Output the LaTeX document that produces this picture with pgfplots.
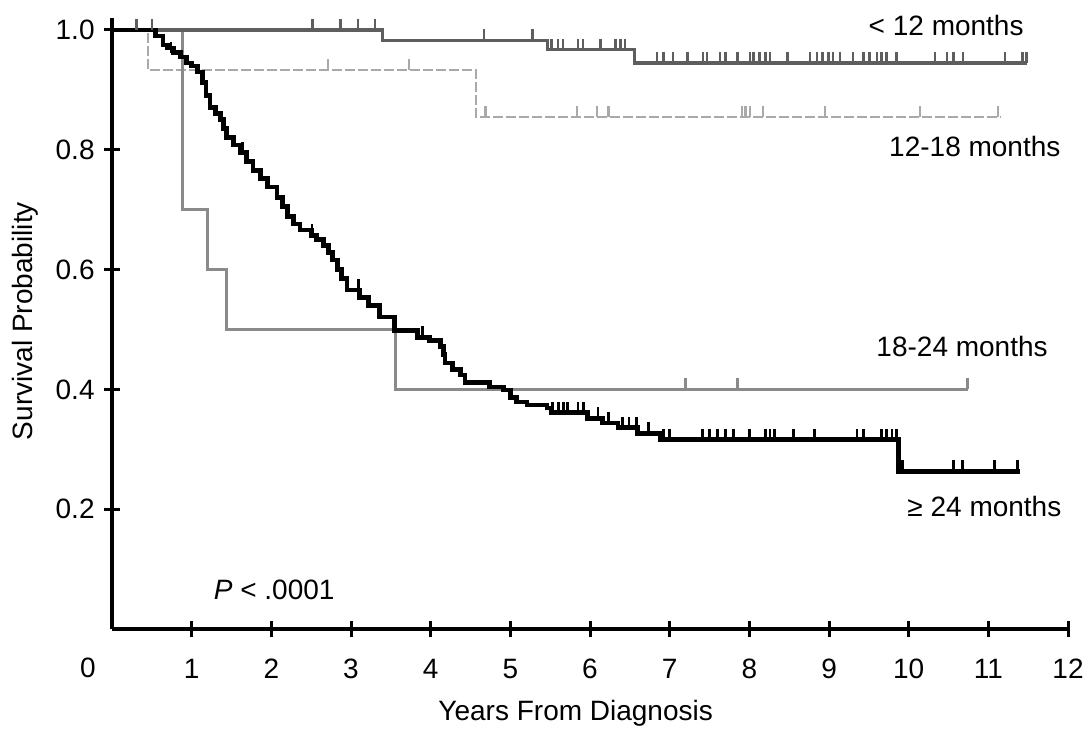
\documentclass[border=0pt]{standalone}
\usepackage{fontspec}
\setmainfont{Liberation Sans}
\usepackage{pgfplots}
\pgfplotsset{compat=1.18}
\usetikzlibrary{calc}
\pgfdeclareplotmark{cens}{\pgfpathmoveto{\pgfpointorigin}\pgfpathlineto{\pgfqpoint{0pt}{\pgfplotmarksize}}\pgfusepathqstroke}
\definecolor{cA}{HTML}{5E5E5E}
\definecolor{cB}{HTML}{A9A9A9}
\definecolor{cC}{HTML}{8A8A8A}
\newcommand{\lbl}{\fontsize{14}{16}\selectfont}
\begin{document}
\begin{tikzpicture}
\path[use as bounding box] (-56pt,-50pt) rectangle (489pt,314.5pt);
\begin{axis}[
  x=39.835pt, y=299.5pt,
  xmin=0, xmax=12, ymin=0, ymax=1.02,
  axis lines=left,
  axis line style={-, line width=2pt, black},
  x axis line style={-}, y axis line style={-},
  clip=false,
  xtick={1,2,3,4,5,6,7,8,9,10,11,12},
  xticklabels={1,2,3,4,5,6,7,8,9,10,11,12},
  ytick={0.2,0.4,0.6,0.8,1.0},
  yticklabels={0.2,0.4,0.6,0.8,1.0},
  tick align=center, major tick length=8pt,
  tick style={line width=1.5pt, black},
  xticklabel style={anchor=north, inner sep=0pt, yshift=-11pt},
  yticklabel style={anchor=east, inner sep=0pt, xshift=-4.5pt},
  ticklabel style={font=\lbl},
]
% 12-18 months
\addplot[const plot, color=cB, line width=1.3pt, dash pattern=on 5pt off 1.5pt] coordinates {
(0,1) (0.45,0.933) (4.57,0.855) (11.15,0.855)};
\addplot[only marks, mark=cens, mark size=5.5pt, color=cB, mark options={solid, line width=1.2pt}] coordinates {
(2.71,0.933) (3.73,0.933) (4.69,0.855) (5.84,0.855) (6.09,0.855) (6.23,0.855)
(7.91,0.855) (7.95,0.855) (8.01,0.855) (8.17,0.855) (8.95,0.855) (10.14,0.855) (11.12,0.855)};
% 18-24 months
\addplot[const plot, color=cC, line width=1.5pt] coordinates {
(0,1) (0.88,0.70) (1.20,0.60) (1.44,0.50) (3.56,0.40) (10.74,0.40)};
\addplot[only marks, mark=cens, mark size=5.5pt, color=cC, mark options={line width=1.4pt}] coordinates {
(7.20,0.40) (7.85,0.40) (10.74,0.40)};
% < 12 months
\addplot[const plot, color=cA, line width=1.6pt] coordinates {
(0,1) (3.40,0.983) (5.47,0.967) (6.56,0.945) (11.48,0.945)};
\addplot[only marks, mark=cens, mark size=5.5pt, color=cA, mark options={line width=1.3pt}] coordinates {
(0.31,1) (0.50,1) (2.52,1) (2.87,1) (3.09,1) (3.30,1)
(4.67,0.983) (5.28,0.983)
(5.52,0.967) (5.60,0.967) (5.66,0.967) (5.85,0.967) (5.91,0.967) (6.13,0.967) (6.32,0.967) (6.38,0.967) (6.44,0.967)
(6.84,0.945) (6.92,0.945) (7.04,0.945) (7.22,0.945) (7.42,0.945) (7.47,0.945) (7.63,0.945) (7.70,0.945) (7.85,0.945)
(8.01,0.945) (8.05,0.945) (8.13,0.945) (8.20,0.945) (8.26,0.945) (8.48,0.945) (8.76,0.945) (8.85,0.945) (8.92,0.945)
(8.99,0.945) (9.05,0.945) (9.14,0.945) (9.30,0.945) (9.43,0.945) (9.51,0.945) (9.60,0.945) (9.66,0.945) (9.72,0.945)
(9.85,0.945) (10.33,0.945) (10.48,0.945) (10.56,0.945) (10.68,0.945) (11.21,0.945) (11.43,0.945) (11.48,0.945)};
% >= 24 months
\addplot[const plot, color=black, line width=2.4pt] coordinates {
(0,1) (0.55,0.99) (0.64,0.975) (0.70,0.97) (0.77,0.962) (0.86,0.955) (0.94,0.945) (1.00,0.94)
(1.07,0.930) (1.14,0.912) (1.18,0.89) (1.23,0.871) (1.30,0.86) (1.36,0.850) (1.40,0.835) (1.44,0.821)
(1.52,0.808) (1.61,0.795) (1.69,0.78) (1.77,0.766) (1.86,0.752) (1.95,0.738) (2.07,0.721) (2.14,0.705)
(2.20,0.688) (2.28,0.676) (2.36,0.666) (2.50,0.657) (2.57,0.650) (2.65,0.640) (2.72,0.628) (2.77,0.616)
(2.83,0.600) (2.88,0.585) (2.95,0.566) (3.11,0.554) (3.22,0.540) (3.36,0.521) (3.55,0.499) (3.83,0.487)
(3.99,0.482) (4.12,0.471) (4.16,0.458) (4.18,0.444) (4.27,0.433) (4.37,0.424) (4.43,0.411) (4.74,0.404)
(4.91,0.399) (5.00,0.386) (5.08,0.379) (5.21,0.374) (5.46,0.369) (5.52,0.361) (5.97,0.352) (6.16,0.344)
(6.35,0.336) (6.60,0.327) (6.88,0.316) (9.87,0.263) (11.40,0.263)};
\addplot[only marks, mark=cens, mark size=5.5pt, color=black, mark options={line width=1.4pt}] coordinates {
(0.74,0.962) (1.64,0.795) (2.51,0.657) (3.09,0.566) (3.90,0.487)
(5.53,0.361) (5.60,0.361) (5.67,0.361) (5.72,0.361) (5.85,0.361) (5.92,0.361)
(6.10,0.352) (6.23,0.344) (6.41,0.336) (6.49,0.336) (6.58,0.336) (6.73,0.327)
(6.92,0.316) (7.00,0.316) (7.41,0.316) (7.50,0.316) (7.60,0.316) (7.70,0.316) (7.80,0.316)
(8.00,0.316) (8.20,0.316) (8.26,0.316) (8.32,0.316) (8.55,0.316) (8.82,0.316) (9.35,0.316)
(9.43,0.316) (9.66,0.316) (9.72,0.316) (9.79,0.316) (9.85,0.316)
(9.92,0.263) (10.56,0.263) (10.68,0.263) (11.08,0.263) (11.37,0.263)};
% labels
\node[font=\lbl] at (axis cs:10.47,1.008) {< 12 months};
\node[font=\lbl] at (axis cs:10.83,0.806) {12-18 months};
\node[font=\lbl] at (axis cs:10.67,0.471) {18-24 months};
\node[font=\lbl] at (axis cs:10.95,0.204) {≥ 24 months};
\node[font=\lbl, anchor=west] at (axis cs:1.19,0.065) {\textit{P} < .0001};
\node[font=\lbl, inner sep=0pt] at ($(axis cs:0,0)+(-12pt,-19.5pt)$) {0};
\node[font=\lbl] at ($(axis cs:5.82,0)+(0pt,-42pt)$) {Years From Diagnosis};
\node[font=\lbl, rotate=90] at ($(axis cs:0,0.514)+(-43.5pt,0pt)$) {Survival Probability};
\end{axis}
\end{tikzpicture}
\end{document}
